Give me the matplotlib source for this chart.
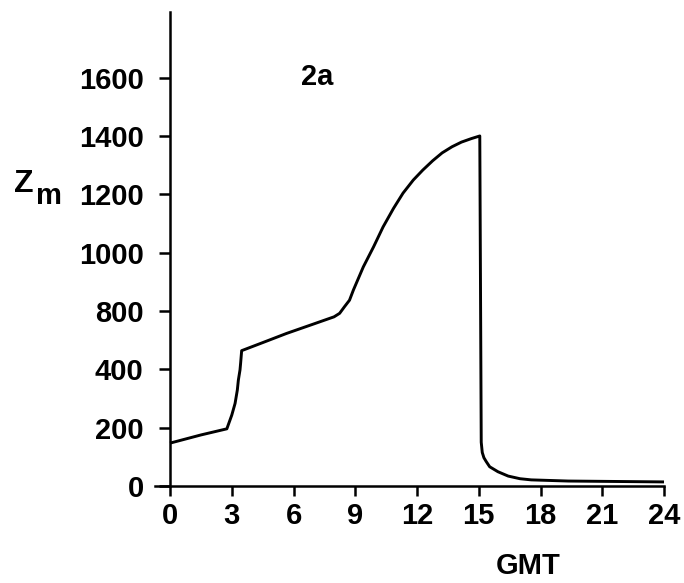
import matplotlib
matplotlib.use('Agg')
import matplotlib.pyplot as plt
import numpy as np

plt.rcParams['font.family'] = ['Liberation Sans', 'DejaVu Sans']
plt.rcParams['font.weight'] = 'bold'

# Curve (hours GMT, Zm as labelled on the axis)
gmt = [0, 1.5, 2.76, 3.0, 3.16, 3.27, 3.32, 3.4, 3.43, 3.48, 4.5, 5.66, 7.0,
       7.97, 8.24, 8.48, 8.72, 8.91, 9.39, 9.89, 10.35, 10.86, 11.32, 11.82,
       12.28, 12.76, 13.22, 13.7, 14.16, 14.64, 15.05,
       15.12, 15.17, 15.25, 15.36, 15.53, 15.93, 16.43, 17.0, 17.55, 19.35, 24]
zm = [147, 175, 196, 243, 283, 329, 363, 398, 442, 528, 583, 646, 712,
      760, 784, 815, 837, 872, 951, 1020, 1088, 1152, 1204, 1249,
      1283, 1315, 1342, 1363, 1379, 1391, 1400,
      150, 115, 97, 84, 66, 49, 34, 25, 21, 17, 14]

x_ticks = [0, 3, 6, 9, 12, 15, 18, 21, 24]
# the original axis skips 600: labels are evenly spaced but 400 -> 800 is one step
y_ticks = [0, 200, 400, 800, 1000, 1200, 1400, 1600]


def fwd(v):
    v = np.asarray(v, dtype=float)
    return np.where(v <= 400, v, np.where(v <= 800, 400 + (v - 400) / 2, v - 200))


def inv(u):
    u = np.asarray(u, dtype=float)
    return np.where(u <= 400, u, np.where(u <= 600, 400 + 2 * (u - 400), u + 200))


fig = plt.figure(figsize=(6.84, 5.83), dpi=100)
ax = fig.add_axes([155 / 684, 97 / 583, 509 / 684, 474 / 583])

ax.plot(gmt, zm, color='black', linewidth=2.1, clip_on=False,
        solid_capstyle='butt', solid_joinstyle='round')

ax.set_yscale('function', functions=(fwd, inv))
ax.set_xlim(-0.73, 24)
ax.set_ylim(0, 1825)

ax.spines['top'].set_visible(False)
ax.spines['right'].set_visible(False)
ax.spines['left'].set_position(('data', 0))
ax.spines['left'].set_linewidth(1.8)
ax.spines['bottom'].set_linewidth(1.8)

ax.set_xticks(x_ticks)
ax.set_xticklabels([str(t) for t in x_ticks])
ax.set_yticks(y_ticks)
ax.set_yticklabels([str(t) for t in y_ticks])
ax.minorticks_off()
ax.tick_params(axis='x', direction='out', length=7.5, width=1.8, pad=4, labelsize=21)
ax.tick_params(axis='y', direction='out', length=8, width=1.8, pad=11, labelsize=21)

fig.text(528 / 684, 1 - 566 / 583, 'GMT', ha='center', va='center', fontsize=21, fontweight='bold')
fig.text(317 / 684, 1 - 77 / 583, '2a', ha='center', va='center', fontsize=21, fontweight='bold')
fig.text(24 / 684, 1 - 184 / 583, 'Z', ha='center', va='center', fontsize=23, fontweight='bold')
fig.text(49 / 684, 1 - 196 / 583, 'm', ha='center', va='center', fontsize=21, fontweight='bold')

fig.savefig('out.png', dpi=100)
